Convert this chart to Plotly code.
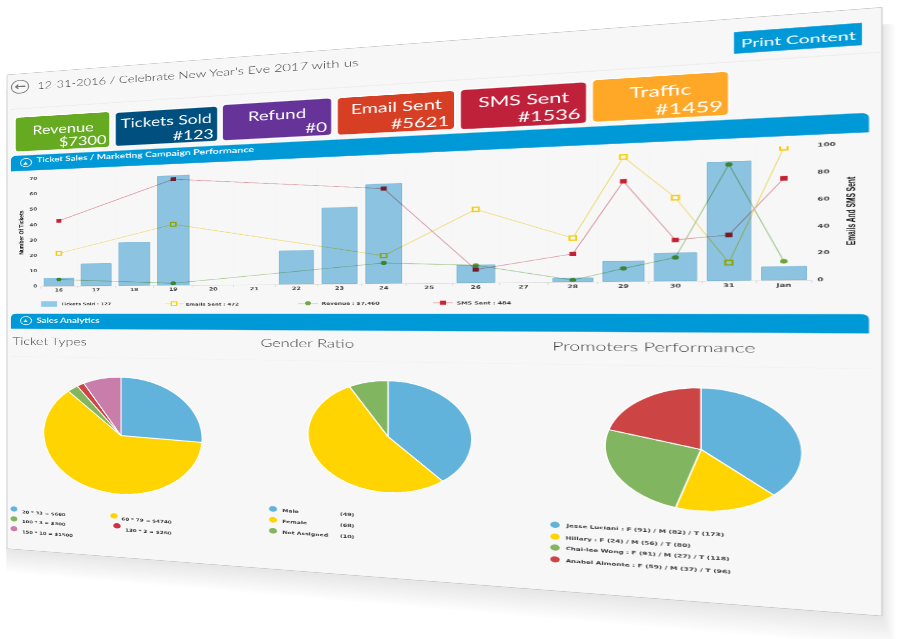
import numpy as np
import plotly.graph_objects as go

# data
days = ["16", "17", "18", "19", "20", "21", "22", "23", "24", "25", "26", "27", "28", "29", "30", "31", "Jan"]
bar_days = ["16", "17", "18", "19", "22", "23", "24", "26", "28", "29", "30", "31", "Jan"]
tickets = [5, 14, 27, 68, 20, 45, 58, 10, 2, 11, 15, 63, 7]
line_days = ["16", "19", "24", "26", "28", "29", "30", "31", "Jan"]
emails = [30, 54, 23, 59.5, 34.5, 97, 64, 13.5, 99]
revenue = [6, 1.6, 17, 14, 1.3, 10, 18, 88, 14]
sms = [60, 94, 79, 10.5, 22, 78, 31.5, 34.5, 76]
left_ticks = [0, 10, 20, 30, 40, 50, 60, 70]
right_ticks = [0, 20, 40, 60, 80, 100]

ticket_types = ["20 * 33 = $660", "60 * 79 = $4740", "100 * 3 = $300", "130 * 2 = $260", "150 * 10 = $1500"]
ticket_counts = [33, 79, 3, 2, 10]
genders = ["Male", "Female", "Not Assigned"]
gender_counts = [49, 68, 10]
promoters = ["Jesse Luciani", "Hillary", "Chai-lee Wong", "Anabel Almonte"]
promoter_female = [91, 24, 91, 59]
promoter_male = [82, 56, 27, 37]
promoter_total = [173, 80, 118, 96]

cards = ["Revenue", "Tickets Sold", "Refund", "Email Sent", "SMS Sent", "Traffic"]
card_values = ["$7300", "#123", "#0", "#5621", "#1536", "#1459"]
card_colors = ["#66aa22", "#00507f", "#663399", "#d63f24", "#c0213a", "#ffa726"]

BLUE, YELLOW, GREEN, RED, PINK = "#62b3dc", "#ffd400", "#82b55f", "#cc4444", "#c87daa"
BAND = "#0099d8"
FONT = "Lato"
SMALL = "DejaVu Sans"
NARROW = "Liberation Sans"

# the dashboard is laid out flat, then the page tilts it with a css matrix
W, H, M = 1100, 1015, 50
PW, PH = 1000, 915
flat_pts = [(M, M), (M + PW, M), (M + PW, M + PH), (M, M + PH)]
page_pts = [(7, 73), (882, 5), (882, 619), (7, 551)]


def homography(src, dst):
    a, b = [], []
    for (x, y), (u, v) in zip(src, dst):
        a.append([x, y, 1, 0, 0, 0, -u * x, -u * y])
        a.append([0, 0, 0, x, y, 1, -v * x, -v * y])
        b += [u, v]
    return np.append(np.linalg.solve(np.array(a, float), np.array(b, float)), 1).reshape(3, 3)


TILT = homography(flat_pts, page_pts)
UNTILT = np.linalg.inv(TILT)


def flat(sx, sy):
    # picture position to flat pixel position
    p = UNTILT @ np.array([sx, sy, 1.0])
    return p[0] / p[2], p[1] / p[2]


def paper(fx, fy):
    return fx / W, 1 - fy / H


shapes, notes = [], []


def rrect(x0, y0, x1, y1, r, fill, line=None, lw=0, layer="below", bottom_r=True, opacity=1):
    px = lambda x: x / W
    py = lambda y: 1 - y / H
    rb = r if bottom_r else 0
    d = (f"M {px(x0 + r)} {py(y0)} L {px(x1 - r)} {py(y0)} Q {px(x1)} {py(y0)} {px(x1)} {py(y0 + r)} "
         f"L {px(x1)} {py(y1 - rb)} Q {px(x1)} {py(y1)} {px(x1 - rb)} {py(y1)} "
         f"L {px(x0 + rb)} {py(y1)} Q {px(x0)} {py(y1)} {px(x0)} {py(y1 - rb)} "
         f"L {px(x0)} {py(y0 + r)} Q {px(x0)} {py(y0)} {px(x0 + r)} {py(y0)} Z")
    shapes.append(dict(type="path", xref="paper", yref="paper", path=d, fillcolor=fill, layer=layer,
                       opacity=opacity, line=dict(color=line or fill, width=lw)))


def box(sx0, sy0, sx1, sy1, r, fill, **kw):
    x0, y0 = flat(sx0, sy0)
    x1, y1 = flat(sx1, sy1)
    rrect(x0, y0, x1, y1, r, fill, **kw)


def hline(sx0, sy0, sx1, color, width=1, dash="solid"):
    x0, y0 = paper(*flat(sx0, sy0))
    x1 = flat(sx1, sy0)[0] / W
    shapes.append(dict(type="line", xref="paper", yref="paper", x0=x0, x1=x1, y0=y0, y1=y0,
                       line=dict(color=color, width=width, dash=dash)))


def dot(sx, sy, color, size=10, kind="circle", line=None, lw=0):
    fx, fy = flat(sx, sy)
    x0, y0 = paper(fx - size / 2, fy - size / 2)
    x1, y1 = paper(fx + size / 2, fy + size / 2)
    shapes.append(dict(type=kind, xref="paper", yref="paper", x0=x0, x1=x1, y0=y0, y1=y1,
                       fillcolor=color, line=dict(color=line or color, width=lw)))


def label(text, sx, sy, size, color="#3c3c3c", anchor="left", family=FONT, angle=0, weight=None):
    x, y = paper(*flat(sx, sy))
    font = dict(size=size, color=color, family=family)
    if weight:
        font["weight"] = weight
    notes.append(dict(text=text, x=x, y=y, xref="paper", yref="paper", showarrow=False, xanchor=anchor,
                      yanchor="middle", textangle=angle, font=font))


def small(text, sx, sy, size=7.5):
    label(f"<b>{text}</b>", sx, sy, size, "#3a3a3a", family=SMALL)


# shadow, then the sheet
for k in range(1, 25):
    rrect(M - 1, M + 25, M + PW + k * 0.5, M + PH + k * 1.9, 4, "#000000", opacity=0.007)
rrect(M, M, M + PW, M + PH, 0, "#f7f7f7", line="#c8c8c8", lw=1)

# top row
dot(20, 85, "rgba(0,0,0,0)", size=25, line="#808080", lw=1.5)
label("<b>←</b>", 20, 84.5, 20, "#777777", "center", SMALL)
label("12-31-2016 / Celebrate New Year's Eve 2017 with us", 36, 84, 18, weight=300)
hline(10, 108, 880, "#ececec", 1.5)
box(734, 30, 862, 43, 0, BAND)
label("Print Content", 798, 37, 18, "#ffffff", "center")

# blue bands
box(11, 155, 869, 131, 8, BAND, bottom_r=False)
dot(26, 161.5, "rgba(0,0,0,0)", size=16, line="#ffffff", lw=1.2)
label("▲", 26, 161.5, 8, "#ffffff", "center", SMALL)
label("<b>Ticket Sales / Marketing Campaign Performance</b>", 35, 158.5, 13.7, "#eef8fd")
box(11, 314, 869, 334, 8, BAND, bottom_r=False)
dot(26, 321, "rgba(0,0,0,0)", size=16, line="#ffffff", lw=1.2)
label("▲", 26, 321, 8, "#ffffff", "center", SMALL)
label("<b>Sales Analytics</b>", 35, 320.5, 13.5, "#eef8fd")

# cards
card_boxes = [(15, 116, 110, 146), (115, 111, 218, 140), (222, 103, 332, 134),
              (337, 96, 455, 128), (460, 88, 587, 122), (592, 78, 729, 114)]
name_pos = [(62.5, 127), (166, 119), (277, 113), (396, 105), (523, 98), (660, 89)]
value_pos = [(108.5, 138), (215, 132), (329, 125), (451, 119), (583, 112), (725, 104)]
for i in range(len(cards)):
    box(*card_boxes[i], 6, card_colors[i], line="#ffffff", lw=2)
    label(cards[i], *name_pos[i], 23, "#ffffff", "center")
    label(card_values[i], *value_pos[i], 23, "#ffffff", "right")

# chart axes
ax0 = flat(40.6, 283)[0] / W
ax1 = flat(812, 283)[0] / W
ay0 = paper(*flat(400, 283.2))[1]
ay1 = paper(*flat(400, 161.7))[1]
tick_font = dict(size=8, color="#444444", family=SMALL, weight="bold")

fig = go.Figure()
fig.add_trace(go.Scatter(x=line_days, y=emails, mode="lines+markers", yaxis="y", name="Emails Sent",
                         line=dict(color="#f8e27c", width=1.2),
                         marker=dict(symbol="square", size=7, color="#ffffff", line=dict(color=YELLOW, width=2))))
fig.add_trace(go.Scatter(x=line_days, y=revenue, mode="lines+markers", yaxis="y", name="Revenue",
                         line=dict(color="#b0d09a", width=1.2),
                         marker=dict(symbol="circle", size=7, color="#6fa83c")))
fig.add_trace(go.Scatter(x=line_days, y=sms, mode="lines+markers", yaxis="y", name="SMS Sent",
                         line=dict(color="#e0a0a6", width=1.2),
                         marker=dict(symbol="square", size=7, color="#cc2233")))
fig.add_trace(go.Bar(x=bar_days, y=tickets, yaxis="y2", name="Tickets Sold",
                     marker=dict(color="#91cae8", line=dict(color="#7fbcdc", width=1))))


def pie(values, colors, sx, sy, r):
    fx, fy = flat(sx, sy)
    fig.add_trace(go.Pie(values=values, sort=False, direction="clockwise", rotation=0, textinfo="none",
                         marker=dict(colors=colors, line=dict(color="#ffffff", width=1.5)),
                         domain=dict(x=[(fx - r) / W, (fx + r) / W], y=[1 - (fy + r) / H, 1 - (fy - r) / H])))


pie(ticket_counts, [BLUE, YELLOW, GREEN, RED, PINK], 121, 437, 109)
pie(gender_counts, [BLUE, YELLOW, GREEN], 388, 438, 96)
pie(promoter_total, [BLUE, YELLOW, GREEN, RED], 701, 451, 97)

label("<b>Number Of Tickets</b>", 21, 232, 9.5, "#111111", "center", NARROW, -90)
label("<b>Emails And SMS Sent</b>", 851, 210, 10, "#111111", "center", NARROW, -90)

# chart legend
leg_y = 304
box(41, leg_y - 2.5, 57, leg_y + 3, 0, "#91cae8", layer="above")
small("Tickets Sold : 127", 60, leg_y + 0.5, 7)
hline(165, leg_y, 184, "#f8e27c", 1.2)
dot(174, leg_y, "#ffffff", size=7, kind="rect", line=YELLOW, lw=2)
small("Emails Sent : 472", 184, leg_y + 0.5, 7)
hline(298, leg_y, 318, "#b0d09a", 1.2)
dot(308, leg_y - 0.5, "#6fa83c", size=7)
small("Revenue : $7,460", 320, leg_y, 7)
hline(433, leg_y - 1, 453, "#e0a0a6", 1.2)
dot(443, leg_y - 1, "#cc2233", size=7, kind="rect")
small("SMS Sent : 484", 455, leg_y - 0.5, 7)

# pie titles
label("Ticket Types", 11, 341, 20, weight=300)
label("Gender Ratio", 259, 343, 20, weight=300)
label("Promoters Performance", 550, 346, 20, weight=300)
hline(11, 357, 873, "#f1f1f1", 1)

# pie legends
dot(14, 511, BLUE)
small(ticket_types[0], 21, 514)
dot(114, 518, YELLOW)
small(ticket_types[1], 120, 521)
dot(14, 521, GREEN)
small(ticket_types[2], 21, 523.5)
dot(117, 528, "#cc3344")
small(ticket_types[3], 124, 532)
dot(14, 531, PINK)
small(ticket_types[4], 21, 534)

for i, sy in enumerate([511, 522, 533]):
    dot(273, sy, [BLUE, YELLOW, GREEN][i])
    small(genders[i], 281, sy + 1.5)
    small(f"({gender_counts[i]})", 338, sy + 5)

for i, sy in enumerate([527, 539, 550, 562]):
    dot(555, sy, [BLUE, YELLOW, GREEN, RED][i])
    small(f"{promoters[i]} : F ({promoter_female[i]}) / M ({promoter_male[i]}) / T ({promoter_total[i]})",
          564, sy + 1, 7.4)

fig.update_layout(
    width=W, height=H, margin=dict(l=0, r=0, t=0, b=0), autosize=False,
    paper_bgcolor="rgba(0,0,0,0)", plot_bgcolor="rgba(0,0,0,0)", showlegend=False, bargap=0.2,
    shapes=shapes, annotations=notes,
    xaxis=dict(domain=[ax0, ax1], type="category", categoryorder="array", categoryarray=days,
               range=[-0.5, 16.5], tickmode="array", tickvals=days, ticktext=days[:-1] + ["<b>Jan</b>"],
               tickfont=tick_font, tickson="boundaries", ticks="outside", ticklen=3, tickcolor="#d5d5d5",
               showline=True, linecolor="#dddddd", showgrid=True, gridcolor="#f4f4f4", zeroline=False),
    yaxis=dict(domain=[ay0, ay1], range=[0, 100], side="right", tickmode="array", tickvals=right_ticks,
               tickfont=tick_font, showgrid=False, zeroline=False, ticklabelstandoff=4),
    yaxis2=dict(domain=[ay0, ay1], range=[0, 70], side="left", overlaying="y", tickmode="array",
                tickvals=left_ticks, tickfont=tick_font, showgrid=False, zeroline=False, ticklabelstandoff=4),
)

t = TILT / TILT[2, 2]
css = (f"matrix3d({t[0,0]},{t[1,0]},0,{t[2,0]},{t[0,1]},{t[1,1]},0,{t[2,1]},"
       f"0,0,1,0,{t[0,2]},{t[1,2]},0,1)")
tilt_js = """
document.body.style.margin = '0';
document.body.style.overflow = 'hidden';
document.documentElement.style.overflow = 'hidden';
var gd = document.getElementById('{plot_id}');
gd.style.position = 'absolute';
gd.style.left = '0';
gd.style.top = '0';
gd.style.transformOrigin = '0 0';
gd.style.transform = '%s';
gd.querySelectorAll('.barlayer').forEach(function (n) {
  n.style.mixBlendMode = 'multiply';
  var p = n.parentNode;
  while (p && p !== gd && p.tagName.toLowerCase() === 'g') {
    p.removeAttribute('clip-path');
    p.style.clipPath = '';
    p.style.mixBlendMode = 'multiply';
    if (p.classList.contains('overplot')) break;
    p = p.parentNode;
  }
});
""" % css

fig.write_html("out.html", post_script=tilt_js)
